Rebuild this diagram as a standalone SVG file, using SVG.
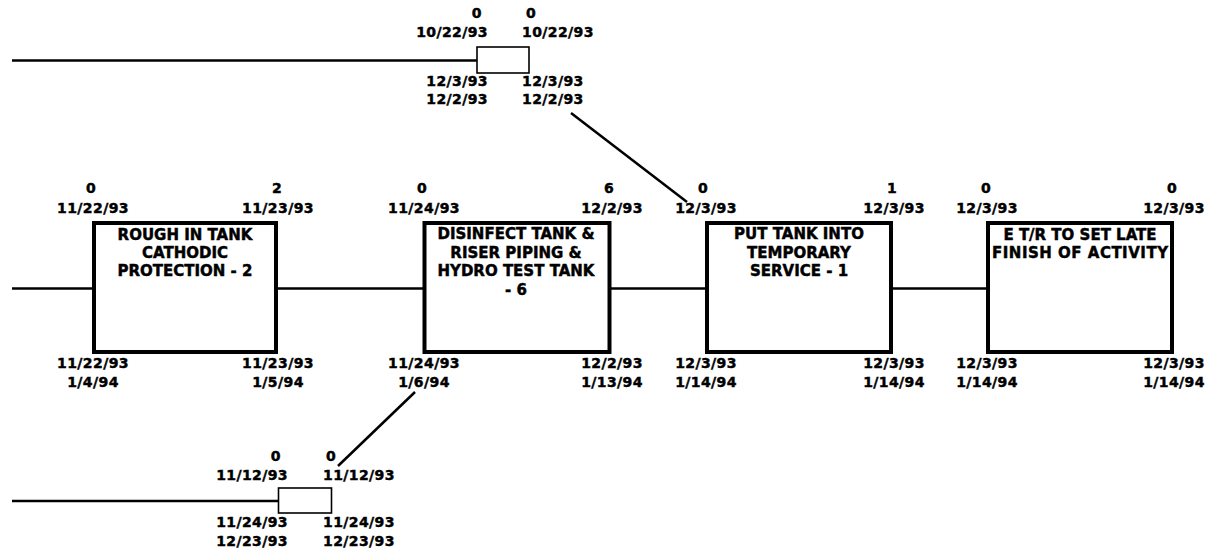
<svg xmlns="http://www.w3.org/2000/svg" width="1210" height="554" viewBox="0 0 1210 554">
<style>
text{font-family:"DejaVu Sans","Liberation Sans",Arial,sans-serif;font-weight:700;fill:#000;stroke:#000;stroke-width:0.45px}
.d{font-size:14px;letter-spacing:0.4px}
.t{font-size:15px;text-anchor:middle}
.m{text-anchor:middle}
.e{text-anchor:end}
.box{fill:#fff;stroke:#000;stroke-width:4}
.sbox{fill:#fff;stroke:#000;stroke-width:1.6}
.ln{stroke:#000;stroke-width:2.5;fill:none}
</style>
<rect width="1210" height="554" fill="#fff"/>
<g id="connectors">
<line class="ln" x1="12" y1="288.5" x2="94" y2="288.5"/>
<line class="ln" x1="276" y1="288.5" x2="424.5" y2="288.5"/>
<line class="ln" x1="609.5" y1="288.5" x2="707" y2="288.5"/>
<line class="ln" x1="891" y1="288.5" x2="988" y2="288.5"/>
<line class="ln" x1="12" y1="60.5" x2="477" y2="60.5" stroke-width="2"/>
<line class="ln" x1="12" y1="501" x2="278" y2="501" stroke-width="2"/>
<line class="ln" x1="571" y1="113" x2="687" y2="202"/>
<line class="ln" x1="415" y1="392" x2="338" y2="466"/>
</g>
<g id="node-top">
<rect class="sbox" x="477" y="47" width="52" height="26"/>
<text class="d e" x="482" y="18">0</text>
<text class="d e" x="488" y="37">10/22/93</text>
<text class="d e" x="488" y="86">12/3/93</text>
<text class="d e" x="488" y="104">12/2/93</text>
<text class="d" x="526" y="18">0</text>
<text class="d" x="522" y="37">10/22/93</text>
<text class="d" x="522" y="86">12/3/93</text>
<text class="d" x="522" y="104">12/2/93</text>
</g>
<g id="node-bottom">
<rect class="sbox" x="278.5" y="488" width="53" height="25"/>
<text class="d e" x="281" y="461">0</text>
<text class="d e" x="288" y="480">11/12/93</text>
<text class="d e" x="288" y="527">11/24/93</text>
<text class="d e" x="288" y="546">12/23/93</text>
<text class="d" x="326" y="461">0</text>
<text class="d" x="323" y="480">11/12/93</text>
<text class="d" x="323" y="527">11/24/93</text>
<text class="d" x="323" y="546">12/23/93</text>
</g>
<g id="node-rough-in">
<rect class="box" x="94" y="223" width="182" height="129"/>
<text class="t" x="185" y="240">ROUGH IN TANK</text>
<text class="t" x="185" y="258">CATHODIC</text>
<text class="t" x="185" y="276">PROTECTION - 2</text>
<text class="d m" x="91" y="193">0</text>
<text class="d m" x="93" y="213">11/22/93</text>
<text class="d m" x="93" y="368">11/22/93</text>
<text class="d m" x="93" y="387">1/4/94</text>
<text class="d m" x="277" y="193">2</text>
<text class="d m" x="278" y="213">11/23/93</text>
<text class="d m" x="278" y="368">11/23/93</text>
<text class="d m" x="278" y="387">1/5/94</text>
</g>
<g id="node-disinfect">
<rect class="box" x="424.5" y="223" width="185" height="129"/>
<text class="t" x="516" y="239">DISINFECT TANK &amp;</text>
<text class="t" x="516" y="257.5">RISER PIPING &amp;</text>
<text class="t" x="516" y="276">HYDRO TEST TANK</text>
<text class="t" x="516" y="294.5">- 6</text>
<text class="d m" x="422" y="193">0</text>
<text class="d m" x="424" y="213">11/24/93</text>
<text class="d m" x="424" y="368">11/24/93</text>
<text class="d m" x="424" y="387">1/6/94</text>
<text class="d m" x="609" y="193">6</text>
<text class="d m" x="612" y="213">12/2/93</text>
<text class="d m" x="612" y="368">12/2/93</text>
<text class="d m" x="612" y="387">1/13/94</text>
</g>
<g id="node-put-tank">
<rect class="box" x="707" y="223" width="184" height="129"/>
<text class="t" x="799" y="239">PUT TANK INTO</text>
<text class="t" x="799" y="257.5">TEMPORARY</text>
<text class="t" x="799" y="276">SERVICE - 1</text>
<text class="d m" x="703" y="193">0</text>
<text class="d m" x="706" y="213">12/3/93</text>
<text class="d m" x="706" y="368">12/3/93</text>
<text class="d m" x="706" y="387">1/14/94</text>
<text class="d m" x="892" y="193">1</text>
<text class="d m" x="894" y="213">12/3/93</text>
<text class="d m" x="894" y="368">12/3/93</text>
<text class="d m" x="894" y="387">1/14/94</text>
</g>
<g id="node-etr">
<rect class="box" x="988" y="223" width="184" height="129"/>
<text class="t" x="1080" y="240">E T/R TO SET LATE</text>
<text class="t" x="1080" y="257.5" textLength="176" lengthAdjust="spacing">FINISH OF ACTIVITY</text>
<text class="d m" x="986" y="193">0</text>
<text class="d m" x="987" y="213">12/3/93</text>
<text class="d m" x="987" y="368">12/3/93</text>
<text class="d m" x="987" y="387">1/14/94</text>
<text class="d m" x="1172" y="193">0</text>
<text class="d m" x="1174" y="213">12/3/93</text>
<text class="d m" x="1174" y="368">12/3/93</text>
<text class="d m" x="1174" y="387">1/14/94</text>
</g>
</svg>
